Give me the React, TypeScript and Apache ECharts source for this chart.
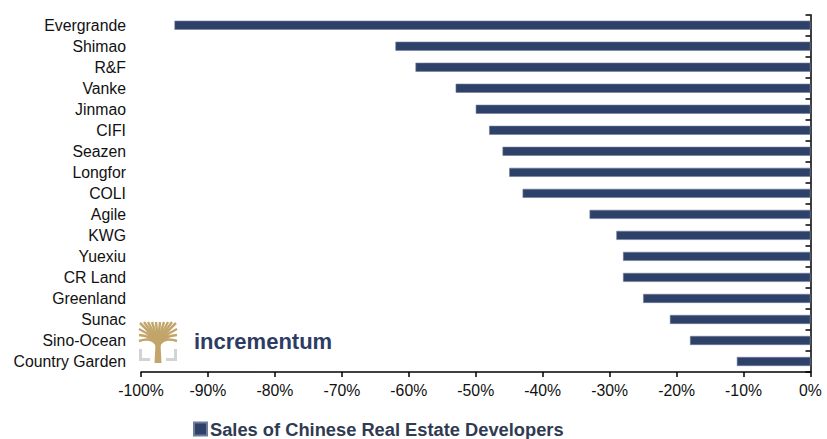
import React, { useEffect, useRef } from "react";
import * as echarts from "echarts";

const categories = [
  "Evergrande", "Shimao", "R&F", "Vanke", "Jinmao", "CIFI", "Seazen", "Longfor", "COLI",
  "Agile", "KWG", "Yuexiu", "CR Land", "Greenland", "Sunac", "Sino-Ocean", "Country Garden",
];
const salesChange = [-95, -62, -59, -53, -50, -48, -46, -45, -43, -33, -29, -28, -28, -25, -21, -18, -11];
const seriesName = "Sales of Chinese Real Estate Developers";
const xMin = -100;
const xMax = 0;
const xStep = 10;

const FONT = "'Liberation Sans', Arial, sans-serif";
const GOLD = "#C2A56A";
const GREY = "#D3D3D6";

function treeBranches() {
  const trunkTop: [number, number] = [158, 348];
  const tips: [number, number][] = [
    [139, 341], [139, 335], [139, 329], [140, 323], [144, 322], [148, 322], [152, 322], [156, 322],
    [160, 322], [164, 322], [168, 322], [172, 322], [176, 323], [177, 329], [177, 335], [177, 341],
  ];
  return tips.map((t) => ({
    type: "bezierCurve",
    silent: true,
    shape: {
      x1: trunkTop[0], y1: trunkTop[1],
      cpx1: trunkTop[0] + (t[0] - trunkTop[0]) * 0.2, cpy1: trunkTop[1] - 12,
      x2: t[0], y2: t[1],
    },
    style: { stroke: GOLD, lineWidth: 2.4, fill: null },
  }));
}

export default function App() {
  const ref = useRef<HTMLDivElement>(null);
  useEffect(() => {
    document.body.style.margin = "0";
    const chart = echarts.init(ref.current!, null, { renderer: "svg" });
    chart.setOption({
      animation: false,
      backgroundColor: "#ffffff",
      grid: { left: 141, right: 16.5, top: 14.7, bottom: 67, containLabel: false },
      legend: {
        data: [seriesName],
        left: 188,
        top: 415,
        icon: "rect",
        itemWidth: 13,
        itemHeight: 13,
        itemGap: 3,
        textStyle: { fontFamily: FONT, fontSize: 18.3, fontWeight: "bold", color: "#2F3B52", padding: [0, 0, 0, -2] },
      },
      xAxis: {
        type: "value",
        min: xMin,
        max: xMax,
        interval: xStep,
        axisLine: { show: true, onZero: false, lineStyle: { color: "#000", width: 1.5 } },
        axisTick: { show: true, length: 5, lineStyle: { color: "#000", width: 1.5 } },
        splitLine: { show: false },
        axisLabel: {
          formatter: "{value}%",
          fontFamily: FONT,
          fontSize: 15.8,
          color: "#111",
          margin: 10,
        },
      },
      yAxis: [
        {
          type: "category",
          data: categories,
          inverse: true,
          position: "left",
          axisLine: { show: false },
          axisTick: { show: false },
          axisLabel: { fontFamily: FONT, fontSize: 15.8, color: "#111", margin: 15 },
        },
        {
          type: "category",
          data: categories,
          inverse: true,
          position: "right",
          axisLine: { show: true, lineStyle: { color: "#000", width: 1.5 } },
          axisTick: { show: true, inside: true, length: 5, lineStyle: { color: "#000", width: 1.5 } },
          axisLabel: { show: false },
        },
      ],
      series: [
        {
          name: seriesName,
          type: "bar",
          yAxisIndex: 0,
          data: salesChange,
          barWidth: 9,
          itemStyle: { color: "#2E4169", borderColor: "#6E7C9A", borderWidth: 0.6 },
        },
      ],
      graphic: [
        {
          type: "polygon",
          silent: true,
          shape: { points: [[154.5, 363], [161.5, 363], [160.5, 344], [155.5, 344]] },
          style: { fill: GOLD },
        },
        ...treeBranches(),
        {
          type: "polyline",
          silent: true,
          shape: { points: [[140.5, 349], [140.5, 359.5], [150, 359.5]] },
          style: { stroke: GREY, lineWidth: 3, fill: null },
        },
        {
          type: "polyline",
          silent: true,
          shape: { points: [[175.5, 349], [175.5, 359.5], [166, 359.5]] },
          style: { stroke: GREY, lineWidth: 3, fill: null },
        },
        {
          type: "text",
          silent: true,
          left: 194,
          top: 330,
          style: {
            text: "incrementum",
            fontFamily: FONT,
            fontSize: 22,
            fontWeight: "bold",
            fill: "#2C3C64",
          },
        },
      ],
    });
    return () => chart.dispose();
  }, []);
  return (
    <div
      ref={ref}
      style={{ position: "absolute", left: 0, top: 0, width: 827, height: 439 }}
    />
  );
}
